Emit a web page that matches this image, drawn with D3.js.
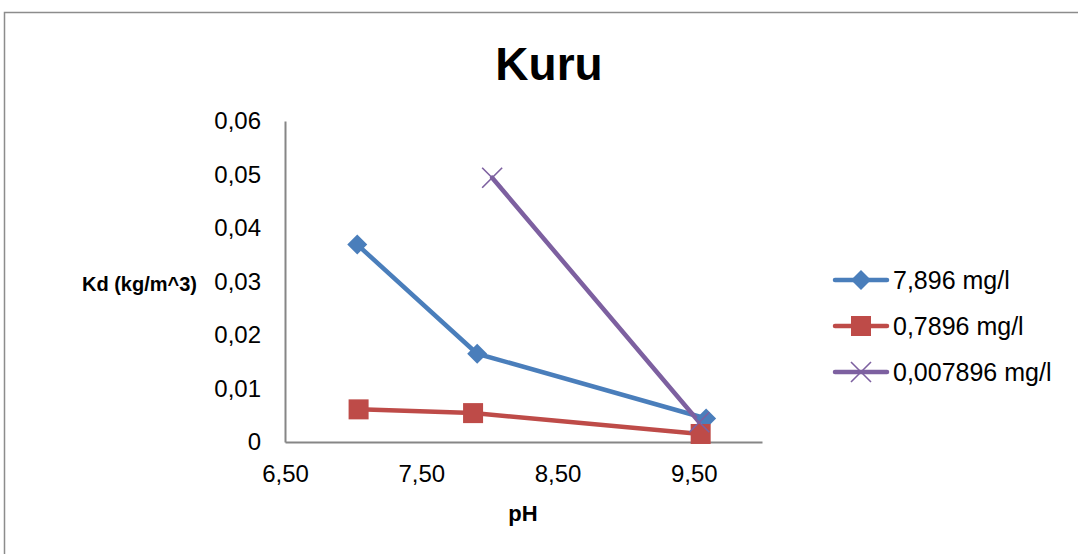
<!DOCTYPE html>
<html>
<head>
<meta charset="utf-8">
<script src="https://cdn.jsdelivr.net/npm/d3@7"></script>
<style>
  html, body { margin: 0; padding: 0; background: #fff; }
  svg { display: block; font-family: "Liberation Sans", Arial, sans-serif; }
</style>
</head>
<body>
<svg id="chart" width="1078" height="554"></svg>
<script>
// Kd versus pH for three concentrations
const seriesNames = ["7,896 mg/l", "0,7896 mg/l", "0,007896 mg/l"];
const pHBlue = [7.03, 7.91, 9.59];
const kdBlue = [0.0369, 0.0165, 0.0044];
const pHRed = [7.04, 7.88, 9.55];
const kdRed = [0.0061, 0.0054, 0.0015];
const pHPurple = [8.02, 9.54];
const kdPurple = [0.0494, 0.0037];
const xTicks = [6.5, 7.5, 8.5, 9.5];
const yTicks = [0, 0.01, 0.02, 0.03, 0.04, 0.05, 0.06];

const series = [
  { name: seriesNames[0], x: pHBlue, y: kdBlue, color: "#4A7EBB", marker: "diamond" },
  { name: seriesNames[1], x: pHRed, y: kdRed, color: "#BE4B48", marker: "square" },
  { name: seriesNames[2], x: pHPurple, y: kdPurple, color: "#7D60A0", marker: "cross" }
];

const svg = d3.select("#chart");

// outer chart frame
svg.append("rect")
  .attr("x", 4.5).attr("y", 12.5)
  .attr("width", 1100).attr("height", 600)
  .attr("fill", "none").attr("stroke", "#8c8c8c").attr("stroke-width", 1.5);

const x = d3.scaleLinear().domain([6.5, 10]).range([285, 762]);
const y = d3.scaleLinear().domain([0, 0.06]).range([442, 121]);

const fmtX = v => d3.format(".2f")(v).replace(".", ",");
const fmtY = v => v === 0 ? "0" : d3.format(".2f")(v).replace(".", ",");

// axes
const xAxis = svg.append("g").attr("transform", "translate(0,442)")
  .call(d3.axisBottom(x).tickValues(xTicks).tickFormat(fmtX).tickSize(0).tickPadding(23));
const yAxis = svg.append("g").attr("transform", "translate(285,0)")
  .call(d3.axisLeft(y).tickValues(yTicks).tickFormat(fmtY).tickSize(0).tickPadding(24));
[xAxis, yAxis].forEach(g => {
  g.select(".domain").attr("stroke", "#868686").attr("stroke-width", 2);
  g.selectAll("text").attr("font-size", 24).attr("fill", "#000")
    .attr("font-family", "\"Liberation Sans\", Arial, sans-serif");
});

// titles
svg.append("text").attr("x", 549).attr("y", 80).attr("text-anchor", "middle")
  .attr("font-size", 46).attr("font-weight", "bold").text("Kuru");
svg.append("text").attr("x", 523).attr("y", 521).attr("text-anchor", "middle")
  .attr("font-size", 22).attr("font-weight", "bold").text("pH");
svg.append("text").attr("x", 197).attr("y", 291).attr("text-anchor", "end")
  .attr("font-size", 20).attr("font-weight", "bold").text("Kd (kg/m^3)");

function drawMarker(g, type, cx, cy, color) {
  if (type === "diamond") {
    g.append("path").attr("d", `M${cx},${cy - 10}L${cx + 10},${cy}L${cx},${cy + 10}L${cx - 10},${cy}Z`)
      .attr("fill", color);
  } else if (type === "square") {
    g.append("rect").attr("x", cx - 10).attr("y", cy - 10).attr("width", 20).attr("height", 20)
      .attr("fill", color);
  } else {
    g.append("path").attr("d", `M${cx - 10},${cy - 10}L${cx + 10},${cy + 10}M${cx - 10},${cy + 10}L${cx + 10},${cy - 10}`)
      .attr("stroke", color).attr("stroke-width", 1.6).attr("fill", "none");
  }
}

const line = d3.line().x(d => x(d[0])).y(d => y(d[1]));
const plot = svg.append("g");
series.forEach(s => {
  const pts = s.x.map((v, i) => [v, s.y[i]]);
  plot.append("path").datum(pts).attr("d", line)
    .attr("fill", "none").attr("stroke", s.color).attr("stroke-width", 4.5)
    .attr("stroke-linejoin", "round").attr("stroke-linecap", "round");
});
series.forEach(s => {
  s.x.forEach((v, i) => drawMarker(plot, s.marker, x(v), y(s.y[i]), s.color));
});

// legend
const legend = svg.append("g");
series.forEach((s, i) => {
  const cy = 280 + i * 46;
  legend.append("line").attr("x1", 835).attr("x2", 887).attr("y1", cy).attr("y2", cy)
    .attr("stroke", s.color).attr("stroke-width", 4.5).attr("stroke-linecap", "round");
  drawMarker(legend, s.marker, 861, cy, s.color);
  legend.append("text").attr("x", 893).attr("y", cy + 9)
    .attr("font-size", 25).text(s.name);
});
</script>
</body>
</html>
